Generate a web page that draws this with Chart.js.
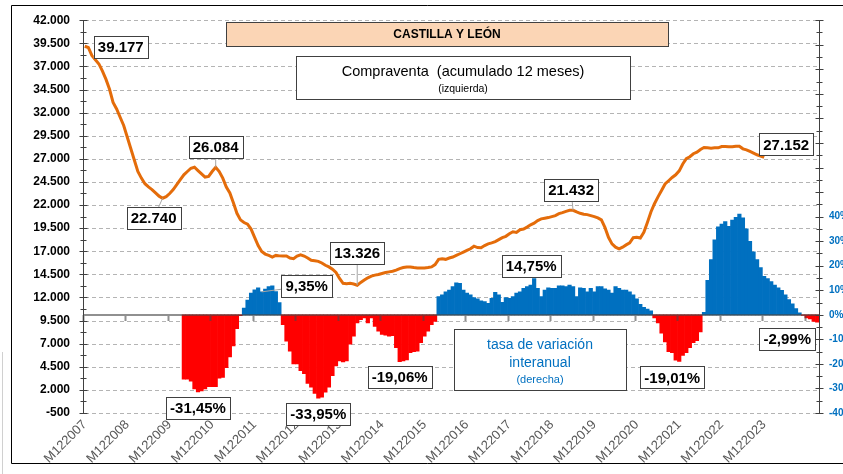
<!doctype html>
<html lang="es">
<head>
	<meta charset="UTF-8">
	<title>Castilla y León - Compraventa</title>
	<script src="https://cdn.jsdelivr.net/npm/chart.js@4.4.0/dist/chart.umd.min.js"></script>
	<style>
		html, body { margin: 0; padding: 0; background: #fff; }
		#wrap { position: relative; width: 843px; height: 474px; }
	</style>
</head>
<body>
	<div id="wrap"><canvas id="chart" width="843" height="474"></canvas></div>
	<script>
		// meses M122007 ... M032025 (eje de categorias)
		const primerMes = { mes: 12, anio: 2007 };
		const numMeses = 208;
		const meses = [];
		for (let i = 0; i < numMeses; i++) {
			const m = (primerMes.mes - 1 + i) % 12 + 1;
			const a = primerMes.anio + Math.floor((primerMes.mes - 1 + i) / 12);
			meses.push('M' + String(m).padStart(2, '0') + a);
		}

		const etiquetasEje = ['M122007', 'M122008', 'M122009', 'M122010', 'M122011', 'M122012', 'M122013', 'M122014',
			'M122015', 'M122016', 'M122017', 'M122018', 'M122019', 'M122020', 'M122021', 'M122022', 'M122023'];

		// compraventa acumulado 12 meses (izquierda), desde M122007
		const compraventa = [
			39177, 39046, 38192, 37729, 37266, 36483, 35594, 34526, 33102, 32391,
			31501, 30611, 29365, 28120, 26874, 25628, 24917, 24312, 23956, 23671,
			23315, 22960, 22740, 22900, 23244, 23671, 24205, 24739, 25272, 25628,
			25984, 26091, 25735, 25380, 25024, 25095, 25628, 26084, 25628, 24917,
			23956, 23315, 22248, 21108, 20397, 20112, 19934, 19400, 18511, 17621,
			16980, 16695, 16553, 16375, 16553, 16500, 16481, 16481, 16267, 16196,
			16481, 16623, 16481, 16267, 16018, 15982, 15911, 15733, 15484, 15306,
			15057, 14701, 14060, 13527, 13491, 13527, 13456, 13326, 13633, 13882,
			14131, 14309, 14416, 14487, 14594, 14701, 14772, 14843, 14950, 15128,
			15235, 15306, 15306, 15235, 15199, 15199, 15199, 15235, 15306, 15555,
			16125, 16196, 16125, 16267, 16374, 16552, 16730, 16908, 17086, 17264,
			17548, 17400, 17371, 17620, 17798, 17904, 18047, 18260, 18474, 18616,
			18901, 19115, 19043, 19328, 19399, 19613, 19862, 20040, 20325, 20503,
			20574, 20645, 20752, 20859, 21072, 21179, 21321, 21428, 21432, 21250,
			21108, 21001, 20965, 20859, 20752, 20610, 20396, 19577, 18510, 17798,
			17442, 17264, 17442, 17691, 17904, 18474, 18510, 18438, 19043, 20111,
			21250, 22140, 22887, 23563, 24275, 24631, 24987, 25272, 25699, 26446,
			27015, 27229, 27549, 27727, 28012, 28226, 28190, 28155, 28190, 28190,
			28332, 28332, 28297, 28297, 28368, 28368, 28083, 27976, 27798, 27620,
			27443, 27300, 27152
		];

		// tasa de variacion interanual (derecha), desde M042010
		const inicioTasa = 'M042010';
		const tasa = [
			-26.2, -26.2, -27, -30.2, -31.45, -31, -30.2, -29.3, -29.3, -29.3, -25.8, -25.5, -21.5, -17.2, -12.7, -5.6,
			-0.4,
			2.7, 6, 8.8, 10.2, 11, 9.35, 10.5, 11.5, 11.8, 9.5, 5,
			-4, -10.7, -14.8, -20, -20, -22.8, -24, -28, -29.5, -32, -33.95, -33.6, -31.5, -29.5, -24.8, -20.8,
			-18.8, -19.2, -18.8, -12, -8.7, -3.3, -2, -1.3, -3.3, -1.3, -4.7, -6.7, -8, -8.3, -8.7, -8.5,
			-13.4, -19.06, -18.8, -18.4, -15.4, -15, -14.8, -11.4, -8.7, -6.7, -4, -2.7,
			7.4, 8.1, 9.4, 10.1, 11.5, 13, 12.8, 10.1, 8.8, 8.1, 7, 6.5, 5.7, 5.4, 4.7, 6.7, 9.2, 8.1, 5.1, 7,
			6.7, 7.4, 8.8, 9.4, 10.8, 11.5, 12.1, 14.75, 10.8, 7.4, 10.1, 11, 10.8, 10.8, 11.8, 11.8, 11.5, 12.1,
			11.5, 7.4, 11, 10.8, 9.4, 10.8, 9.4, 11.5, 11.5, 10.6, 10.1, 8.8, 11.5, 10.8, 10.1, 10.1, 9.4, 8.1,
			6.5, 4.3, 3, 2.3, 1.6,
			-1.3, -3.3, -7.5, -11, -15, -15.4, -18.5, -19.01, -16.5, -15.4, -13.4, -11.4, -10.5, -7,
			1, 14, 22.5, 30.5, 35.8, 37, 38, 36, 38.6, 39.7, 41, 39.5, 35, 29.9, 25.6, 22.5, 19.2, 15.7, 14.8, 13.5,
			12.1, 11, 10, 8.1, 6.2, 4.5, 2.5, 0.8,
			-0.3, -1.3, -1.7, -2.7, -2.99
		];

		// etiquetas de datos: punto al que apuntan y desplazamiento de la caja
		const etiquetas = [
			{ serie: 'compraventa', mes: 'M122007', dx: 36, dy: 1, guia: false },
			{ serie: 'compraventa', mes: 'M102009', dx: -9, dy: 20, guia: true },
			{ serie: 'compraventa', mes: 'M012011', dx: 0, dy: -20, guia: true },
			{ serie: 'compraventa', mes: 'M052014', dx: 0, dy: -32, guia: true },
			{ serie: 'compraventa', mes: 'M062019', dx: -2, dy: -20, guia: true },
			{ serie: 'compraventa', mes: 'M122023', dx: 22, dy: -13, guia: false },
			{ serie: 'tasa', mes: 'M022012', dx: 45, dy: -6, guia: true },
			{ serie: 'tasa', mes: 'M082010', dx: 0, dy: 16, guia: false },
			{ serie: 'tasa', mes: 'M062013', dx: 0, dy: 16, guia: false },
			{ serie: 'tasa', mes: 'M052015', dx: 0, dy: 15, guia: false },
			{ serie: 'tasa', mes: 'M072018', dx: -3, dy: -13, guia: false },
			{ serie: 'tasa', mes: 'M122021', dx: -7, dy: 16, guia: false },
			{ serie: 'tasa', mes: 'M032025', dx: -30, dy: 17, guia: false },
		];

		const FONT = "'Liberation Sans', Arial, sans-serif";
		const iTasa = meses.indexOf(inicioTasa);
		const tasaDatos = meses.map((m, i) => (i < iTasa ? null : tasa[i - iTasa]));

		function miles(v) {
			const s = String(Math.abs(Math.round(v))).replace(/\B(?=(\d{3})+(?!\d))/g, '.');
			return (v < 0 ? '-' : '') + s;
		}
		function pct(v) {
			return v.toFixed(2).replace('.', ',') + '%';
		}

		function caja(ctx, x, y, w, h, fill) {
			ctx.fillStyle = fill;
			ctx.fillRect(x, y, w, h);
			ctx.strokeStyle = '#404040';
			ctx.lineWidth = 1;
			ctx.strokeRect(Math.round(x) + 0.5, Math.round(y) + 0.5, Math.round(w), Math.round(h));
		}

		const ejesPlugin = {
			id: 'ejes',
			afterDatasetsDraw(chart) {
				const { ctx, chartArea: a, scales } = chart;
				const y = scales.y, y2 = scales.y2;
				ctx.save();
				// linea base de las barras (0%)
				const y0 = Math.round(y2.getPixelForValue(0));
				ctx.strokeStyle = 'rgba(70,70,70,0.6)';
				ctx.lineWidth = 2;
				ctx.beginPath();
				ctx.moveTo(a.left, y0);
				ctx.lineTo(a.right, y0);
				const paso = (a.right - a.left) / numMeses;
				for (let k = 0; k <= numMeses; k += 12) {
					const px = Math.round(a.left + k * paso) + 0.5;
					ctx.moveTo(px, y0);
					ctx.lineTo(px, y0 + 6);
				}
				ctx.stroke();

				// ejes verticales con marcas
				ctx.strokeStyle = '#404040';
				ctx.lineWidth = 1;
				ctx.beginPath();
				const xl = Math.round(a.left) + 0.5, xr = Math.round(a.right) + 0.5;
				ctx.moveTo(xl, a.top);
				ctx.lineTo(xl, a.bottom);
				ctx.moveTo(xr, a.top);
				ctx.lineTo(xr, a.bottom);
				for (let v = -500; v <= 42000; v += 1250) {
					const py = Math.round(y.getPixelForValue(v)) + 0.5;
					const l = (v + 500) % 2500 === 0 ? 4 : 3;
					ctx.moveTo(xl - l, py);
					ctx.lineTo(xl + l, py);
				}
				for (let v = -40; v <= 120; v += 5) {
					const py = Math.round(y2.getPixelForValue(v)) + 0.5;
					const l = v % 10 === 0 ? 4 : 3;
					ctx.moveTo(xr - l, py);
					ctx.lineTo(xr + l, py);
				}
				ctx.stroke();
				ctx.restore();
			},
			afterDraw(chart) {
				const { ctx, chartArea: a, scales } = chart;
				ctx.save();
				// marco
				ctx.strokeStyle = '#000';
				ctx.lineWidth = 1;
				ctx.beginPath();
				ctx.moveTo(843, 5.5);
				ctx.lineTo(11.5, 5.5);
				ctx.lineTo(11.5, 463.5);
				ctx.lineTo(843, 463.5);
				ctx.stroke();
				ctx.strokeStyle = '#d0d0d0';
				ctx.beginPath();
				ctx.moveTo(2.5, 352);
				ctx.lineTo(2.5, 474);
				ctx.stroke();

				// titulos
				ctx.textAlign = 'center';
				ctx.textBaseline = 'middle';
				caja(ctx, 226, 22, 442, 24, '#FBD5B5');
				ctx.fillStyle = '#000';
				ctx.font = 'bold 12px ' + FONT;
				ctx.fillText('CASTILLA Y LEÓN', 447, 35);

				caja(ctx, 296, 56, 334, 43, '#fff');
				ctx.fillStyle = '#000';
				ctx.font = '14.5px ' + FONT;
				ctx.fillText('Compraventa  (acumulado 12 meses)', 463, 72);
				ctx.font = '10.5px ' + FONT;
				ctx.fillText('(izquierda)', 463, 89);

				caja(ctx, 454, 329, 172, 61, '#fff');
				ctx.fillStyle = '#0070C0';
				ctx.font = '14px ' + FONT;
				ctx.fillText('tasa de variación', 540, 345);
				ctx.fillText('interanual', 540, 363);
				ctx.font = '11px ' + FONT;
				ctx.fillText('(derecha)', 540, 380);

				// etiquetas de datos
				ctx.font = 'bold 15px ' + FONT;
				etiquetas.forEach(e => {
					const i = meses.indexOf(e.mes);
					const esLinea = e.serie === 'compraventa';
					const v = esLinea ? compraventa[i] : tasaDatos[i];
					const px = scales.x.getPixelForValue(i);
					const py = (esLinea ? scales.y : scales.y2).getPixelForValue(v);
					const texto = esLinea ? miles(v) : pct(v);
					const w = ctx.measureText(texto).width + 8;
					const h = 22;
					const cx = px + e.dx, cy = py + e.dy;
					if (e.guia) {
						ctx.strokeStyle = '#a6a6a6';
						ctx.lineWidth = 1;
						ctx.beginPath();
						ctx.moveTo(px, py);
						ctx.lineTo(cx, cy);
						ctx.stroke();
					}
					caja(ctx, cx - w / 2, cy - h / 2, w, h, '#fff');
					ctx.fillStyle = '#000';
					ctx.fillText(texto, cx, cy + 1);
				});

				// lineas de division discontinuas, por detras de todo lo dibujado
				ctx.globalCompositeOperation = 'destination-over';
				ctx.strokeStyle = '#B4B4B4';
				ctx.lineWidth = 1;
				ctx.setLineDash([4, 3]);
				ctx.beginPath();
				for (let v = -500; v <= 42000; v += 2500) {
					const py = Math.round(scales.y.getPixelForValue(v)) + 0.5;
					ctx.moveTo(a.left + 2, py);
					ctx.lineTo(a.right, py);
				}
				ctx.stroke();
				ctx.restore();
			}
		};

		const chart = new Chart(document.getElementById('chart'), {
			type: 'bar',
			data: {
				labels: meses,
				datasets: [
					{
						type: 'line',
						label: 'Compraventa (acumulado 12 meses)',
						data: compraventa,
						yAxisID: 'y',
						borderColor: '#E46C0A',
						borderWidth: 3,
						pointRadius: 0,
						tension: 0,
						order: 0,
					},
					{
						type: 'bar',
						label: 'Tasa de variación interanual',
						data: tasaDatos,
						yAxisID: 'y2',
						backgroundColor: c => (c.raw < 0 ? '#FF0000' : '#0070C0'),
						borderWidth: 0,
						barPercentage: 1,
						categoryPercentage: 1,
						order: 1,
					},
				],
			},
			options: {
				responsive: false,
				animation: false,
				devicePixelRatio: 1,
				layout: { padding: { top: 15, left: 0, right: 0, bottom: 0 } },
				plugins: { legend: { display: false }, tooltip: { enabled: false } },
				scales: {
					x: {
						offset: true,
						grid: { display: false, drawTicks: false },
						border: { display: false },
						ticks: {
							autoSkip: false,
							maxRotation: 45,
							minRotation: 45,
							padding: 4,
							color: '#595959',
							font: { family: FONT, size: 13 },
							callback(val) {
								const lab = this.getLabelForValue(val);
								return etiquetasEje.includes(lab) ? lab : '';
							},
						},
						afterFit(s) { s.height = 61; },
					},
					y: {
						position: 'left',
						min: -500,
						max: 42000,
						grid: { display: false, drawTicks: false },
						border: { display: false },
						ticks: {
							stepSize: 2500,
							padding: 13,
							color: '#000',
							font: { family: FONT, size: 12, weight: 'bold' },
							callback: v => miles(v),
						},
						afterFit(s) { s.width = 83; },
					},
					y2: {
						position: 'right',
						min: -40,
						max: 120,
						grid: { display: false, drawTicks: false },
						border: { display: false },
						ticks: {
							stepSize: 10,
							padding: 10,
							color: '#0070C0',
							font: { family: FONT, size: 10, weight: 'bold' },
							callback: v => (v <= 40 ? v + '%' : ''),
						},
						afterFit(s) { s.width = 24; },
					},
				},
			},
			plugins: [ejesPlugin],
		});
	</script>
</body>
</html>
